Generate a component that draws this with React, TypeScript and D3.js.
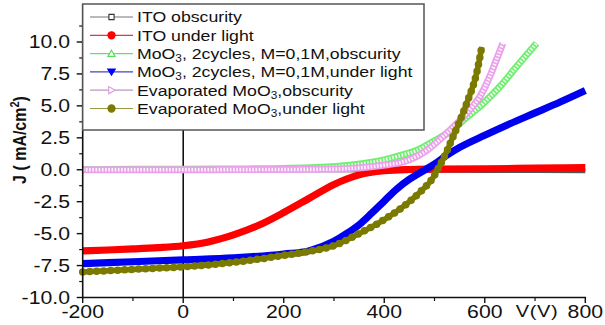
import React from "react";
import * as d3 from "d3";

// ---- axis ticks ----
const xTicks = [-200, 0, 200, 400, 600, 800];
const xMinorTicks = [-100, 100, 300, 500, 700];
const yTicks = [-10, -7.5, -5, -2.5, 0, 2.5, 5, 7.5, 10];
const yMinorTicks = [-8.75, -6.25, -3.75, -1.25, 1.25, 3.75, 6.25, 8.75, 11.25];

// ---- series data (V in mV, J in mA/cm2) ----
const itoDarkV = [-200, 0, 200, 400, 600, 800];
const itoDarkJ = [0, 0, 0, -0.02, -0.05, -0.08];

const itoLightV = [-200, -150, -100, -50, 0, 50, 100, 150, 200, 250, 300, 350, 400, 450, 500, 600, 700, 800];
const itoLightJ = [-6.35, -6.28, -6.2, -6.1, -5.95, -5.65, -5.1, -4.35, -3.35, -2.25, -1.15, -0.4, -0.08, 0.02, 0.05, 0.08, 0.12, 0.17];

const moDarkV = [-200, -100, 0, 100, 200, 266, 332, 398, 431, 464, 497, 531, 564, 597, 630, 663, 703];
const moDarkJ = [0.02, 0.03, 0.04, 0.06, 0.1, 0.17, 0.35, 0.75, 1.1, 1.5, 2.2, 3.0, 4.1, 5.2, 6.5, 8.06, 9.9];

const moLightV = [-200, -100, 0, 100, 200, 250, 300, 325, 350, 375, 400, 425, 450, 475, 500, 525, 550, 600, 650, 700, 750, 800];
const moLightJ = [-7.35, -7.2, -7.05, -6.9, -6.6, -6.35, -5.6, -5.0, -4.3, -3.4, -2.45, -1.5, -0.75, -0.15, 0.45, 1.15, 1.75, 2.7, 3.6, 4.45, 5.3, 6.2];

const evDarkV = [-200, -100, 0, 100, 200, 300, 332, 365, 398, 431, 451, 484, 517, 544, 570, 590, 610, 624, 636];
const evDarkJ = [0, 0, 0, 0.01, 0.02, 0.05, 0.1, 0.2, 0.35, 0.55, 0.8, 1.5, 2.6, 3.6, 4.7, 5.7, 7.3, 8.7, 9.9];

const evLightV = [-200, -150, -100, -50, 0, 50, 100, 150, 200, 250, 300, 350, 400, 425, 450, 475, 494, 510, 525, 537, 550, 565, 584, 594];
const evLightJ = [-8.0, -7.9, -7.8, -7.7, -7.6, -7.45, -7.25, -7.0, -6.7, -6.4, -5.95, -5.0, -3.9, -3.25, -2.5, -1.6, -0.8, 0.3, 1.5, 2.6, 3.8, 5.3, 7.6, 9.6];

// legend labels: [before subscript, subscript, after]
const legendLabels: [string, string, string][] = [
  ["ITO obscurity", "", ""],
  ["ITO under light", "", ""],
  ["MoO", "3", ", 2cycles, M=0,1M,obscurity"],
  ["MoO", "3", ", 2cycles, M=0,1M,under light"],
  ["Evaporated MoO", "3", ",obscurity"],
  ["Evaporated MoO", "3", ",under light"],
];

const FONT = "'Liberation Sans', Arial, Helvetica, sans-serif";
const SX = 1.18;

type Style = {
  color: string;
  width: number;
  kind: "band" | "open" | "beads";
  legendLine: string;
  symbol: "square" | "circle" | "triUp" | "triDown" | "triRight";
  symFill: string;
  symStroke: string;
};

export default function App() {
  const W = 605;
  const H = 325;
  const x = d3.scaleLinear().domain([-200, 800]).range([82.7, 585.3]);
  const y = d3.scaleLinear().domain([-10, 10]).range([297.5, 42]);
  const axisTop = 4;
  const legend = { x0: x(-200), y0: axisTop, x1: 424, y1: 130 };

  const series: { v: number[]; j: number[]; s: Style }[] = [
    { v: itoDarkV, j: itoDarkJ, s: { color: "#555", width: 5, kind: "band", legendLine: "#777", symbol: "square", symFill: "#fff", symStroke: "#333" } },
    { v: itoLightV, j: itoLightJ, s: { color: "#ff0000", width: 7.2, kind: "band", legendLine: "#ee3333", symbol: "circle", symFill: "#ff0000", symStroke: "#ff0000" } },
    { v: moDarkV, j: moDarkJ, s: { color: "#70ee70", width: 7, kind: "open", legendLine: "#66dd77", symbol: "triUp", symFill: "#fff", symStroke: "#55dd55" } },
    { v: moLightV, j: moLightJ, s: { color: "#0000f0", width: 7.2, kind: "band", legendLine: "#4444bb", symbol: "triDown", symFill: "#0000ff", symStroke: "#0000ff" } },
    { v: evDarkV, j: evDarkJ, s: { color: "#eaa0ea", width: 7, kind: "open", legendLine: "#bb99bb", symbol: "triRight", symFill: "#fff", symStroke: "#dd99dd" } },
    { v: evLightV, j: evLightJ, s: { color: "#808000", width: 5.5, kind: "beads", legendLine: "#999944", symbol: "circle", symFill: "#7a7a00", symStroke: "#7a7a00" } },
  ];

  const line = d3
    .line<[number, number]>()
    .x((d) => x(d[0]))
    .y((d) => y(d[1]))
    .curve(d3.curveMonotoneX);

  const symbolPath = (kind: Style["symbol"]) => {
    switch (kind) {
      case "square":
        return "M-2.6,-2.6H2.6V2.6H-2.6Z";
      case "circle":
        return "M-3.6,0A3.6,3.6 0 1,0 3.6,0A3.6,3.6 0 1,0 -3.6,0Z";
      case "triUp":
        return "M0,-3.4L3.6,2.8H-3.6Z";
      case "triDown":
        return "M0,3.4L3.8,-2.9H-3.8Z";
      case "triRight":
        return "M3.6,0L-2.8,-3.6V3.6Z";
    }
  };

  const legendRowY = (i: number) => 17 + 18.3 * i;

  return (
    <svg
      width={W}
      height={H}
      style={{ position: "absolute", left: 0, top: 0, background: "#fff" }}
      fontFamily={FONT}
    >
      <rect x={0} y={0} width={W} height={H} fill="#fff" />

      {/* zero vertical line */}
      <line x1={x(0)} x2={x(0)} y1={legend.y1} y2={y(-10)} stroke="#111" strokeWidth={1.6} />

      {/* series */}
      {series.map((se, i) => {
        const pts: [number, number][] = se.v.map((v, k) => [v, se.j[k]]);
        const d = line(pts) || "";
        const s = se.s;
        if (s.kind === "band") {
          return <path key={i} d={d} fill="none" stroke={s.color} strokeWidth={s.width} strokeLinejoin="round" />;
        }
        if (s.kind === "open") {
          return (
            <g key={i}>
              <path d={d} fill="none" stroke={s.color} strokeWidth={s.width} strokeLinejoin="round" />
              <path d={d} fill="none" stroke="#fff" strokeWidth={s.width - 3.4} strokeDasharray="1.6 1.6" opacity={0.9} />
            </g>
          );
        }
        return (
          <g key={i}>
            <path d={d} fill="none" stroke={s.color} strokeWidth={s.width} strokeLinejoin="round" />
            <path d={d} fill="none" stroke="#7a7a00" strokeWidth={7.5} strokeDasharray="0 7" strokeLinecap="round" />
          </g>
        );
      })}

      {/* axes */}
      <line x1={x(-200)} x2={x(-200)} y1={axisTop} y2={y(-10) + 0.8} stroke="#111" strokeWidth={1.6} />
      <line x1={x(-200) - 0.8} x2={x(800) + 0.8} y1={y(-10)} y2={y(-10)} stroke="#111" strokeWidth={1.6} />

      {yTicks.map((t) => (
        <g key={"yt" + t}>
          <line x1={x(-200) - 6} x2={x(-200)} y1={y(t)} y2={y(t)} stroke="#111" strokeWidth={1.4} />
          <g transform={`translate(70,${y(t)}) scale(${SX},1)`}>
            <text textAnchor="end" dy="0.36em" fontSize={18} fill="#111">
              {t.toFixed(1)}
            </text>
          </g>
        </g>
      ))}
      {yMinorTicks.map((t) => (
        <line key={"ym" + t} x1={x(-200) - 3.5} x2={x(-200)} y1={y(t)} y2={y(t)} stroke="#111" strokeWidth={1.2} />
      ))}
      {xTicks.map((t) => (
        <g key={"xt" + t}>
          <line x1={x(t)} x2={x(t)} y1={y(-10)} y2={y(-10) + 5.5} stroke="#111" strokeWidth={1.4} />
          <g transform={`translate(${x(t)},311.5) scale(${SX},1)`}>
            <text textAnchor="middle" dy="0.36em" fontSize={18} fill="#111">
              {String(t)}
            </text>
          </g>
        </g>
      ))}
      {xMinorTicks.map((t) => (
        <line key={"xm" + t} x1={x(t)} x2={x(t)} y1={y(-10)} y2={y(-10) + 3.5} stroke="#111" strokeWidth={1.2} />
      ))}

      {/* axis titles */}
      <g transform={`translate(537,311) scale(${SX},1)`}>
        <text textAnchor="middle" dy="0.36em" fontSize={17} fill="#111" letterSpacing={0.5}>
          V(V)
        </text>
      </g>
      <g transform={`translate(19,140) scale(${SX},1) rotate(-90)`}>
        <text textAnchor="middle" dy="0.36em" fontSize={16} fontWeight="bold" fill="#111">
          J ( mA/cm
          <tspan fontSize={11} dy={-6}>
            2
          </tspan>
          <tspan dy={6}>)</tspan>
        </text>
      </g>

      {/* legend */}
      <rect
        x={legend.x0}
        y={legend.y0}
        width={legend.x1 - legend.x0}
        height={legend.y1 - legend.y0}
        fill="#fff"
        stroke="#555"
        strokeWidth={1.5}
      />
      {series.map((se, i) => {
        const ly = legendRowY(i);
        const lab = legendLabels[i];
        return (
          <g key={"lg" + i}>
            <line x1={90} x2={133} y1={ly} y2={ly} stroke={se.s.legendLine} strokeWidth={1.2} />
            <path
              d={symbolPath(se.s.symbol)}
              transform={`translate(111.5,${ly})`}
              fill={se.s.symFill}
              stroke={se.s.symStroke}
              strokeWidth={1.1}
            />
            <g transform={`translate(137,${ly}) scale(${SX},1)`}>
              <text dy="0.36em" fontSize={15} fill="#111">
                {lab[0]}
                {lab[1] ? (
                  <tspan fontSize={10} dy={3}>
                    {lab[1]}
                  </tspan>
                ) : null}
                {lab[1] ? <tspan dy={-3}>{lab[2]}</tspan> : null}
              </text>
            </g>
          </g>
        );
      })}
    </svg>
  );
}
